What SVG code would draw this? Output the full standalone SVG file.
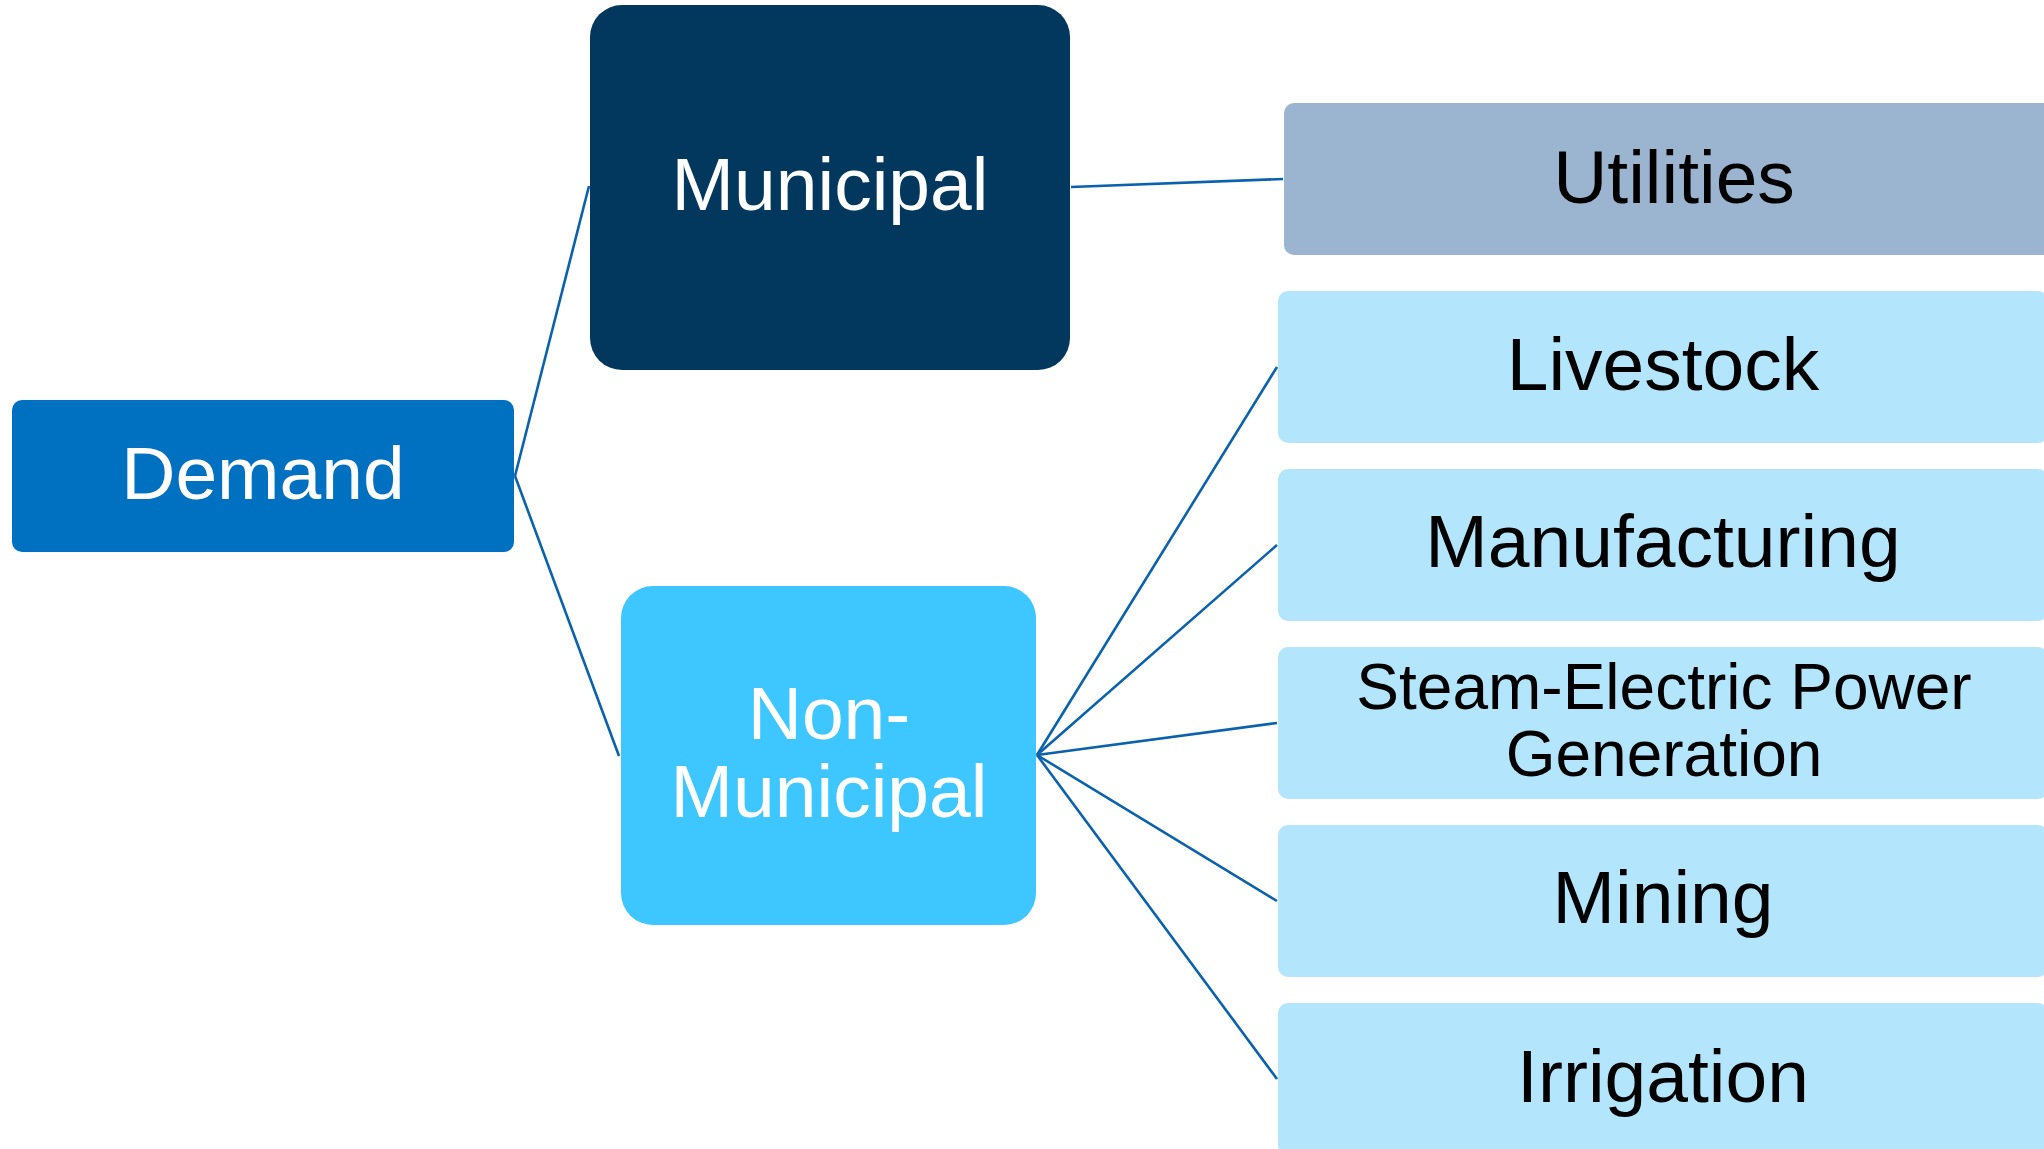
<svg xmlns="http://www.w3.org/2000/svg" width="2044" height="1149" viewBox="0 0 2044 1149">
<style>
.lbl{font-family:"Liberation Sans",Arial,sans-serif;font-size:75px;text-anchor:middle}
.w{fill:#ffffff}
.k{fill:#000000}
.leaf{fill:#b3e6fc}
.conn line{stroke:#0a62ad;stroke-width:2.6;fill:none}
</style>
<rect width="2044" height="1149" fill="#ffffff"/>
<g class="conn" id="connectors">
<line x1="515" y1="476" x2="589" y2="186"/>
<line x1="515" y1="476" x2="619" y2="756"/>
<line x1="1071" y1="187" x2="1283" y2="179"/>
<line x1="1037" y1="755" x2="1277" y2="367"/>
<line x1="1037" y1="755" x2="1277" y2="545"/>
<line x1="1037" y1="755" x2="1277" y2="723"/>
<line x1="1037" y1="755" x2="1277" y2="901"/>
<line x1="1037" y1="755" x2="1277" y2="1079"/>
</g>
<g id="demand">
<rect x="12" y="400" width="502" height="152" rx="10" fill="#0070c0"/>
<text class="lbl w" x="263" y="499">Demand</text>
</g>
<g id="municipal">
<rect x="590" y="5" width="480" height="365" rx="32" fill="#03385e"/>
<text class="lbl w" x="830" y="210">Municipal</text>
</g>
<g id="non-municipal">
<rect x="621" y="586" width="415" height="339" rx="32" fill="#3dc6ff"/>
<text class="lbl w" x="829" y="739">Non-</text>
<text class="lbl w" x="829" y="817">Municipal</text>
</g>
<g id="utilities">
<rect x="1284" y="103" width="780" height="152" rx="10" fill="#9bb4cf"/>
<text class="lbl k" x="1674" y="203">Utilities</text>
</g>
<g id="livestock">
<rect class="leaf" x="1278" y="291" width="770" height="152" rx="10"/>
<text class="lbl k" x="1663" y="390">Livestock</text>
</g>
<g id="manufacturing">
<rect class="leaf" x="1278" y="469" width="770" height="152" rx="10"/>
<text class="lbl k" x="1663" y="567">Manufacturing</text>
</g>
<g id="steam">
<rect class="leaf" x="1278" y="647" width="770" height="152" rx="10"/>
<text class="lbl k" x="1664" y="709" style="font-size:64px">Steam-Electric Power</text>
<text class="lbl k" x="1664" y="776" style="font-size:64px">Generation</text>
</g>
<g id="mining">
<rect class="leaf" x="1278" y="825" width="770" height="152" rx="10"/>
<text class="lbl k" x="1663" y="923">Mining</text>
</g>
<g id="irrigation">
<rect class="leaf" x="1278" y="1003" width="770" height="152" rx="10"/>
<text class="lbl k" x="1663" y="1102">Irrigation</text>
</g>
</svg>
